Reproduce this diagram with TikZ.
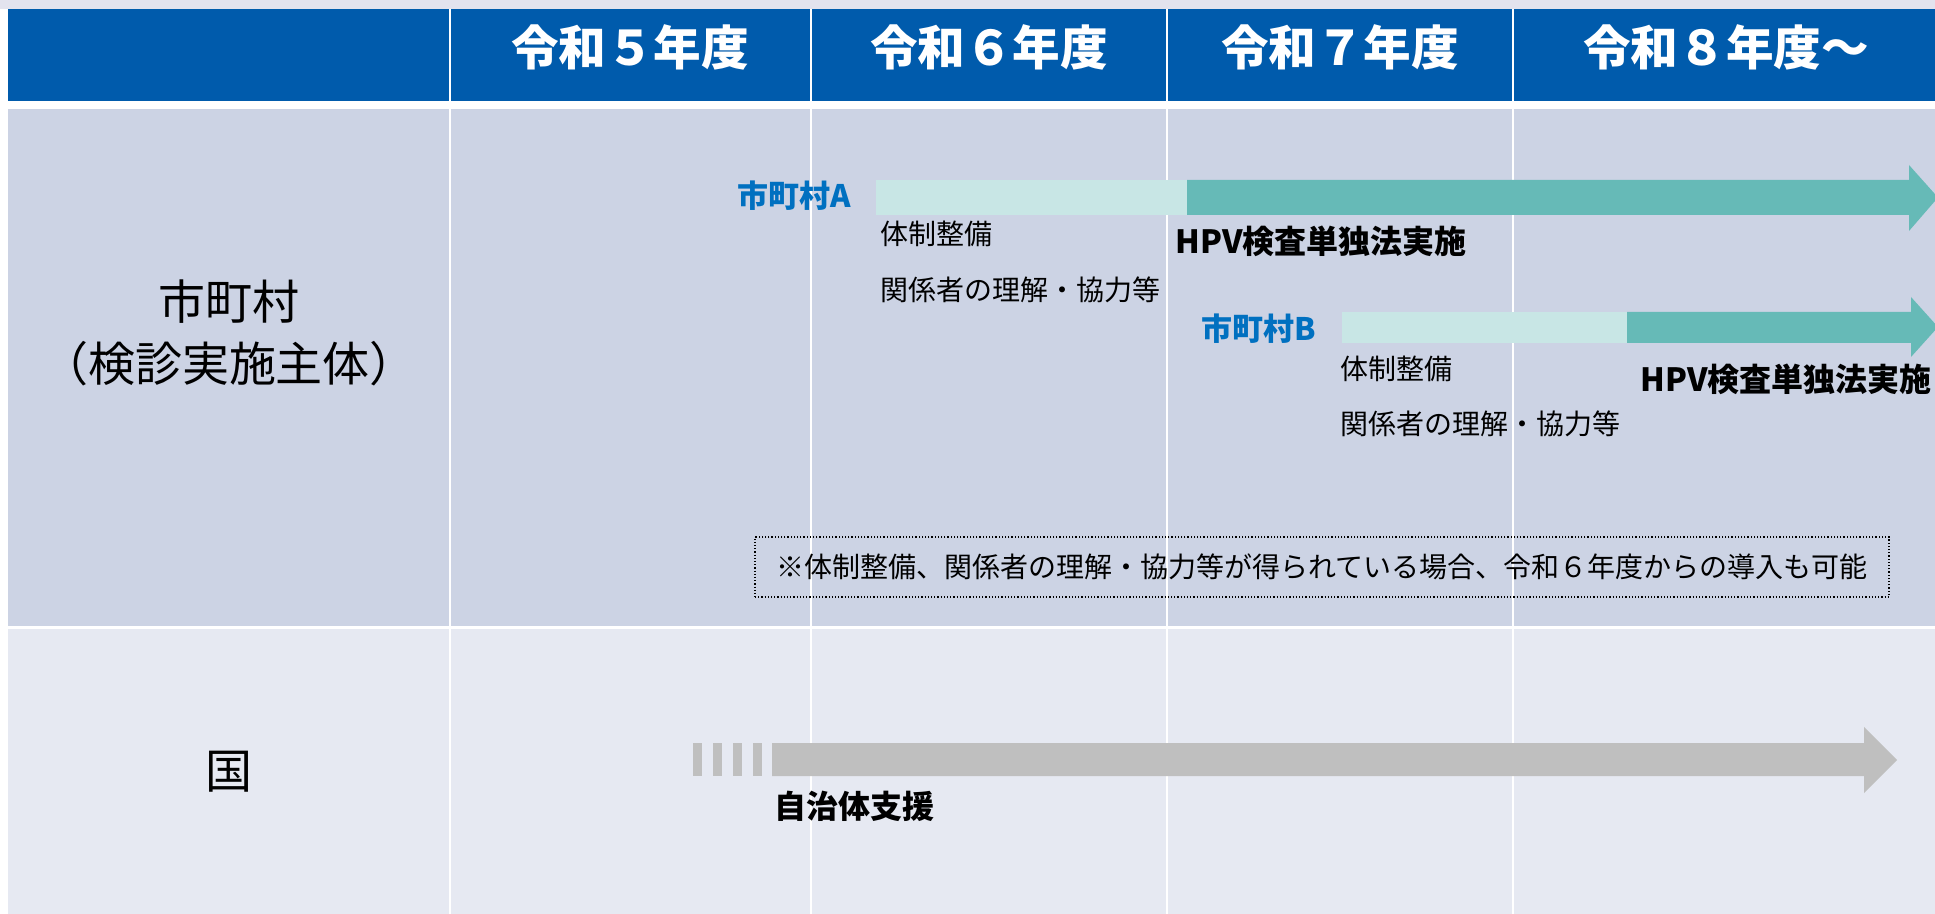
\documentclass[tikz,border=0pt]{standalone}
\usepackage{fontspec}
\setmainfont{Noto Sans CJK JP}
\definecolor{hdrblue}{HTML}{005BAC}
\definecolor{topstrip}{HTML}{E3E3EE}
\definecolor{rowmuni}{HTML}{CCD3E4}
\definecolor{rownation}{HTML}{E6E9F2}
\definecolor{prepteal}{HTML}{C8E6E5}
\definecolor{runteal}{HTML}{66BAB7}
\definecolor{supgrey}{HTML}{BFBFBF}
\definecolor{munitext}{HTML}{0070C0}

\tikzset{
  yearlabel/.style={text=white,font=\fontsize{23.8pt}{28pt}\selectfont\bfseries,anchor=base,inner sep=0pt},
  rowlabel/.style={font=\fontsize{23.5pt}{28pt}\selectfont,anchor=base,inner sep=0pt},
  muni/.style={text=munitext,font=\fontsize{15.5pt}{18pt}\selectfont\bfseries,anchor=base east,inner sep=0pt},
  task/.style={font=\fontsize{14pt}{17pt}\selectfont,anchor=base west,inner sep=0pt},
  phase/.style={font=\fontsize{16pt}{19pt}\selectfont\bfseries,anchor=base west,inner sep=0pt},
  notebox/.style={draw,densely dotted,line width=0.6pt,minimum width=567pt,minimum height=30pt,
    inner sep=0pt,text height=12.3pt,text depth=1.7pt,font=\fontsize{14pt}{17pt}\selectfont},
  divider/.style={white,line width=1.2pt}
}

\begin{document}
\begin{tikzpicture}[x=0.5pt,y=-0.5pt]
\useasboundingbox (0,0) rectangle (1935,914);
\fill[white] (0,0) rectangle (1935,914);
\fill[topstrip] (0,0) rectangle (1935,9);
\fill[hdrblue] (8,9) rectangle (1935,101);
\fill[rowmuni] (8,109) rectangle (1935,626);
\fill[rownation] (8,629) rectangle (1935,914);
\foreach \x in {450,811,1167,1513}
  \draw[divider] (\x,9) -- (\x,914);

% years
\foreach \x/\t [count=\i] in {630/令和５年度,989/令和６年度,1340/令和７年度,1726/令和８年度～}
  \node[yearlabel] (year\i) at (\x,66) {\t};

% rows
\node[rowlabel] (muniname) at (229,320) {市町村};
\node[rowlabel] (muniroll) at (229,382) {（検診実施主体）};
\node[rowlabel] (nation) at (229,788) {国};

% municipality A
\fill[prepteal] (876,180) rectangle (1187,215);
\fill[runteal] (1187,180) -- (1909,180) -- (1909,165) -- (1938,197.5)
  -- (1909,231) -- (1909,215) -- (1187,215) -- cycle;
\node[muni] (muniA) at (851,208) {市町村A};
\node[task] (prepA) at (880,245) {体制整備};
\node[task] (agreeA) at (880,301) {関係者の理解・協力等};
\node[phase] (runA) at (1175,254) {HPV検査単独法実施};

% municipality B
\fill[prepteal] (1342,312) rectangle (1627,343);
\fill[runteal] (1627,312) -- (1911,312) -- (1911,297) -- (1938,327)
  -- (1911,357) -- (1911,343) -- (1627,343) -- cycle;
\node[muni] (muniB) at (1316,341) {市町村B};
\node[task] (prepB) at (1340,380) {体制整備};
\node[task] (agreeB) at (1340,435) {関係者の理解・協力等};
\node[phase] (runB) at (1640,392) {HPV検査単独法実施};

\node[notebox] (earlystart) at (1322,567) {※体制整備、関係者の理解・協力等が得られている場合、令和６年度からの導入も可能};

% national support
\foreach \x in {693,713,733,753}
  \fill[supgrey] (\x,743) rectangle ++(9,33);
\fill[supgrey] (772,743) -- (1864,743) -- (1864,727) -- (1897,760)
  -- (1864,793) -- (1864,776) -- (772,776) -- cycle;
\node[phase] (support) at (774,818) {自治体支援};
\end{tikzpicture}
\end{document}
